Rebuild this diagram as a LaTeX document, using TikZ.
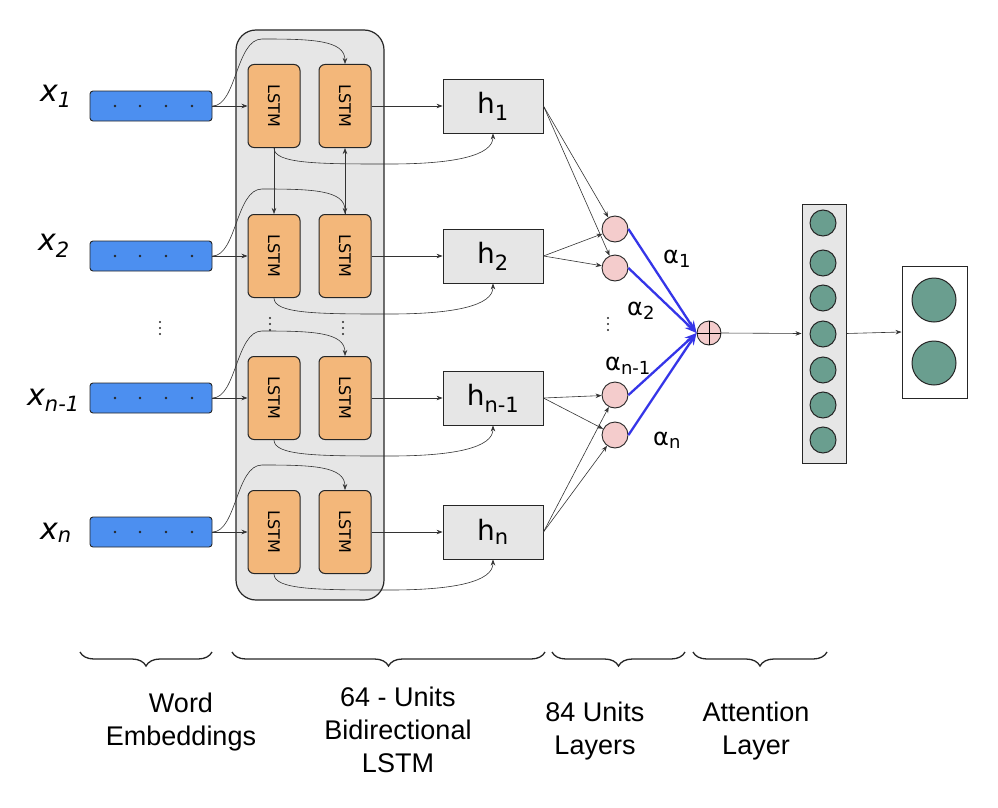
\documentclass[tikz,border=0pt]{standalone}
\usepackage{fontspec}
\usepackage{graphicx}
\setmainfont{Liberation Sans}
\newfontfamily\dvs{DejaVu Sans}
\usetikzlibrary{arrows.meta,decorations.pathreplacing,calc}
\definecolor{embblue}{HTML}{4C8FF0}
\definecolor{lstmor}{HTML}{F3B77A}
\definecolor{boxgray}{HTML}{E6E6E6}
\definecolor{pinkc}{HTML}{F4CCCC}
\definecolor{greenc}{HTML}{6A9E8F}
\definecolor{blueedge}{HTML}{3535E8}
\begin{document}
\begin{tikzpicture}[x=1pt,y=-1pt,
  emb/.style={draw=black!85, fill=embblue, rounded corners=3pt, minimum width=122pt, minimum height=30pt, line width=0.9pt, inner sep=0pt},
  lstm/.style={draw=black!85, fill=lstmor, rounded corners=6pt, minimum width=52pt, minimum height=83pt, line width=1pt, inner sep=0pt},
  hbox/.style={draw=black!85, fill=boxgray, minimum width=100pt, minimum height=54pt, line width=0.9pt, inner sep=0pt, font=\dvs\fontsize{28}{28}\selectfont},
  acirc/.style={circle, draw=black!85, fill=pinkc, minimum size=26pt, inner sep=0pt, line width=0.9pt},
  gcirc/.style={circle, draw=black!85, fill=greenc, minimum size=26pt, inner sep=0pt, line width=1pt},
  conn/.style={-{Stealth[length=6pt,width=4.5pt]}, line width=0.6pt, draw=black!80},
  blueconn/.style={-{Stealth[length=12pt,width=9pt]}, line width=2.3pt, draw=blueedge},
  xlab/.style={font=\dvs\itshape\fontsize{30}{30}\selectfont, anchor=base west, inner sep=0pt},
  alab/.style={font=\dvs\fontsize{24}{24}\selectfont, anchor=base west, inner sep=0pt},
  bottomtxt/.style={font=\fontsize{27}{33}\selectfont, align=center, inner sep=0pt},
  brc/.style={decorate, decoration={brace, mirror, amplitude=14pt}, line width=1.3pt, draw=black!85},
  dotc/.style={fill=black!85}
]
\useasboundingbox (0,0) rectangle (998,808);
\newcommand{\lstmtxt}{\rotatebox{-90}{\dvs\fontsize{16}{16}\selectfont LSTM}}
\newcommand{\hsub}[1]{\textsubscript{\fontsize{21}{21}\selectfont #1}}
\newcommand{\xsub}[1]{\textsubscript{\fontsize{21}{21}\selectfont #1}}
\newcommand{\asub}[1]{\textsubscript{\fontsize{18}{18}\selectfont #1}}
% container
\node[draw=black!85, fill=boxgray, rounded corners=20pt, minimum width=148pt, minimum height=570pt, line width=1.2pt] (bilstm) at (310,315) {};

% rows
\foreach \r/\y in {1/106, 2/256, 3/398, 4/532}{
  \node[emb] (e\r) at (151,\y) {};
  \foreach \dx in {-36,-11,15,41}{ \fill[dotc] ($(e\r.center)+(\dx,0)$) circle (1.4pt); }
  \node[lstm] (la\r) at (274,\y) {\lstmtxt};
  \node[lstm] (lb\r) at (345,\y) {\lstmtxt};
  \coordinate (top\r) at (262,\y-67);
  \coordinate (bot\r) at (390,\y+58);
  \draw[conn] (e\r.east) -- (la\r.west);
  \draw[conn] (e\r.east) .. controls +(24,0) and +(-26,0) .. (top\r) .. controls +(50,0) and +(0,-24) .. (lb\r.north);
}
\node[hbox] (h1) at (493,106) {h\hsub{1}};
\node[hbox] (h2) at (493,256) {h\hsub{2}};
\node[hbox] (h3) at (493,398) {h\hsub{n-1}};
\node[hbox] (h4) at (493,532) {h\hsub{n}};
\foreach \r in {1,2,3,4}{
  \draw[conn] (lb\r.east) -- (h\r.west);
  \draw[conn] (la\r.south) .. controls +(0,16) and +(-70,0) .. (bot\r) .. controls +(65,0) and +(0,22) .. (h\r.south);
}
\draw[conn] (la1.south) -- (la2.north);
\draw[conn] (lb2.north) -- (lb1.south);

% labels x
\node[xlab] (x1) at (40,101) {x\xsub{1}};
\node[xlab] (x2) at (38,250) {x\xsub{2}};
\node[xlab] (x3) at (27,405) {x\xsub{n-1}};
\node[xlab] (x4) at (40,539) {x\xsub{n}};

% vertical dots
\foreach \px/\py in {160/322, 270/318, 343/322, 608/318}{
  \foreach \k in {0,6,12}{ \fill[dotc] (\px,\py+\k) circle (1.2pt); }
}

% attention circles
\node[acirc] (c1) at (615,229) {};
\node[acirc] (c2) at (615,268) {};
\node[acirc] (c3) at (615,395) {};
\node[acirc] (c4) at (615,435) {};
\draw[conn] (h1.east) -- (c1);
\draw[conn] (h1.east) -- (c2);
\draw[conn] (h2.east) -- (c1);
\draw[conn] (h2.east) -- (c2);
\draw[conn] (h3.east) -- (c3);
\draw[conn] (h3.east) -- (c4);
\draw[conn] (h4.east) -- (c3);
\draw[conn] (h4.east) -- (c4);

% sum
\node[circle, draw=black!85, fill=pinkc, minimum size=24pt, inner sep=0pt, line width=0.9pt] (sum) at (709,333) {};
\draw[line width=0.9pt] (sum.north) -- (sum.south) (sum.west) -- (sum.east);
\foreach \c in {1,2,3,4}{ \draw[blueconn] (c\c.east) -- (sum.west); }

\node[alab] (a1) at (663,263) {α\asub{1}};
\node[alab] (a2) at (627,315) {α\asub{2}};
\node[alab] (a3) at (605,370) {α\asub{n-1}};
\node[alab] (a4) at (653,445) {α\asub{n}};

% attention layer
\node[draw=black!85, fill=boxgray, minimum width=44pt, minimum height=259pt, line width=1pt, inner sep=0pt] (att) at (824,333.5) {};
\foreach \i/\y in {1/223,2/263,3/298,4/334,5/370,6/405,7/440}{
  \node[gcirc] (g\i) at (823,\y) {};
}
\draw[conn] (sum.east) -- (att.west);
% output
\node[draw=black!85, fill=white, minimum width=65pt, minimum height=132pt, line width=1pt, inner sep=0pt] (out) at (934.5,332) {};
\node[gcirc, minimum size=44pt] (o1) at (934,300) {};
\node[gcirc, minimum size=44pt] (o2) at (934,363) {};
\draw[conn] (att.east) -- (out.west);

% braces
\coordinate (b1s) at (80,652); \coordinate (b1e) at (212,652);
\coordinate (b2s) at (232,652); \coordinate (b2e) at (545,652);
\coordinate (b3s) at (552,652); \coordinate (b3e) at (685,652);
\coordinate (b4s) at (693,652); \coordinate (b4e) at (827,652);
\draw[brc] (b1s) -- (b1e);
\draw[brc] (b2s) -- (b2e);
\draw[brc] (b3s) -- (b3e);
\draw[brc] (b4s) -- (b4e);
\node[bottomtxt] (t1) at (181,722) {Word\\Embeddings};
\node[bottomtxt] (t2) at (398,730) {64 - Units\\Bidirectional\\LSTM};
\node[bottomtxt] (t3) at (595,731) {84 Units\\Layers};
\node[bottomtxt] (t4) at (756,731) {Attention\\Layer};
\end{tikzpicture}
\end{document}
